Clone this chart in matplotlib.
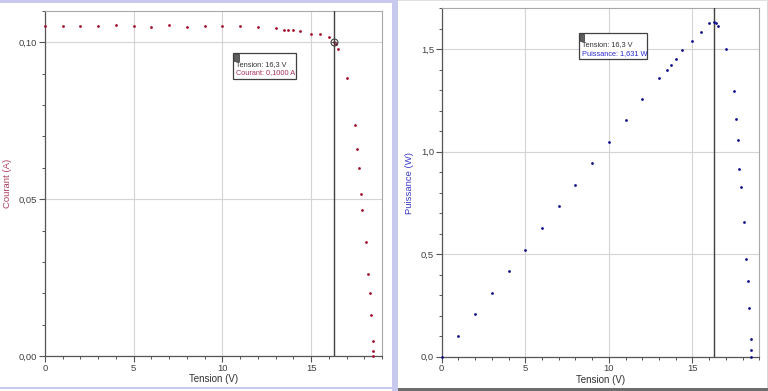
import matplotlib
matplotlib.use("Agg")
import matplotlib.pyplot as plt
from matplotlib.patches import Rectangle
from matplotlib.ticker import MultipleLocator, FuncFormatter

# ---- data ----
tension = [0, 1, 2, 3, 4, 5, 6, 7, 8, 9, 10, 11, 12, 13, 13.5, 13.7, 14, 14.4, 15, 15.5,
           16, 16.3, 16.4, 16.5, 17, 17.5, 17.6, 17.7, 17.8, 17.9, 18.1, 18.2, 18.3, 18.4,
           18.5, 18.5, 18.5]
courant = [0.1051, 0.1051, 0.1051, 0.1053, 0.1054, 0.1051, 0.1049, 0.1054, 0.1049, 0.1051,
           0.1051, 0.1051, 0.1049, 0.1047, 0.1039, 0.1039, 0.1038, 0.1035, 0.1027, 0.1026,
           0.1017, 0.1000, 0.0994, 0.0978, 0.0885, 0.0738, 0.0660, 0.0598, 0.0515, 0.0466,
           0.0363, 0.0263, 0.0202, 0.0130, 0.0047, 0.0017, 0.0000]
puissance = [0.000, 0.103, 0.207, 0.313, 0.419, 0.521, 0.629, 0.736, 0.837, 0.943, 1.049,
             1.156, 1.257, 1.360, 1.399, 1.422, 1.451, 1.495, 1.541, 1.586, 1.626, 1.631,
             1.630, 1.614, 1.503, 1.295, 1.161, 1.057, 0.917, 0.830, 0.657, 0.475, 0.370,
             0.240, 0.087, 0.031, 0.000]
cursor_v = 16.3
cursor_i = 0.1000
cursor_p = 1.631
label_left = ["Tension: 16,3 V", "Courant: 0,1000 A"]
label_right = ["Tension: 16,3 V", "Puissance: 1,631 W"]

plt.rcParams['font.family'] = ['Liberation Sans', 'DejaVu Sans']

W, H = 768, 391
fig = plt.figure(figsize=(W / 100, H / 100), dpi=100, facecolor='white')

def fr(x0, y0, x1, y1):
    """pixel box (top-left origin) -> figure fraction rect args"""
    return (x0 / W, 1 - y1 / H), (x1 - x0) / W, (y1 - y0) / H

lav = '#c9c9ef'
for box, col in [((0, 0, 393, 2.5), lav), ((392, 0, 398, 391), lav),
                 ((0, 386.5, 393, 389), lav), ((398, 388, 768, 391), '#6e6e6e'),
                 ((766.5, 0, 768, 388), '#d8d8d8'), ((398, 0, 768, 1), '#e0e0e0')]:
    xy, w, h = fr(*box)
    fig.patches.append(Rectangle(xy, w, h, transform=fig.transFigure,
                                 facecolor=col, edgecolor='none', zorder=0))

axL = fig.add_axes([45 / W, 1 - 356 / H, 337 / W, 345 / H])
axR = fig.add_axes([441.7 / W, 1 - 356.7 / H, 317.6 / W, 348.4 / H])

tick_col = '#404040'
for ax in (axL, axR):
    ax.set_xlim(0, 19)
    ax.xaxis.set_major_locator(MultipleLocator(5))
    ax.xaxis.set_minor_locator(MultipleLocator(1))
    ax.xaxis.set_major_formatter(FuncFormatter(lambda v, p: f"{v:.0f}"))
    ax.grid(True, which='major', color='#d4d4d4', lw=0.8)
    ax.set_axisbelow(True)
    for s in ('left', 'bottom'):
        ax.spines[s].set_color('#555555')
        ax.spines[s].set_linewidth(0.9)
    for s in ('top', 'right'):
        ax.spines[s].set_color('#a8a8a8')
        ax.spines[s].set_linewidth(0.8)
    ax.tick_params(which='major', length=4, width=0.8, color='#555555',
                   labelsize=6.8, labelcolor=tick_col, pad=1.5)
    ax.tick_params(which='minor', length=2.5, width=0.7, color='#555555')
    ax.set_xlabel("Tension (V)", fontsize=7.0, color='#303030', labelpad=1)
    ax.axvline(cursor_v, color='#404040', lw=1.0, zorder=3)

# left: current
axL.set_ylim(0, 0.11)
axL.yaxis.set_major_locator(MultipleLocator(0.05))
axL.yaxis.set_minor_locator(MultipleLocator(0.01))
axL.yaxis.set_major_formatter(FuncFormatter(lambda v, p: f"{v:.2f}".replace('.', ',')))
axL.plot(tension, courant, 'o', ms=2.0, color='#a0102c', mec='none', zorder=4, clip_on=False)
axL.plot([cursor_v], [cursor_i], 'o', ms=5, mfc='none', mec='#404040', mew=0.8, zorder=5)
axL.plot([cursor_v], [cursor_i], '+', ms=5, color='#404040', mew=0.6, zorder=5)
axL.set_ylabel("Courant (A)", fontsize=6.8, color='#b04060')
axL.yaxis.set_label_coords((12 - 45) / 337, 0.5)

# right: power
axR.set_ylim(0, 1.7)
axR.yaxis.set_major_locator(MultipleLocator(0.5))
axR.yaxis.set_minor_locator(MultipleLocator(0.1))
axR.yaxis.set_major_formatter(FuncFormatter(lambda v, p: f"{v:.1f}".replace('.', ',')))
axR.plot(tension, puissance, 'o', ms=2.0, color='#10108a', mec='none', zorder=4, clip_on=False)
axR.set_ylabel("Puissance (W)", fontsize=6.8, color='#3a3ac8')
axR.yaxis.set_label_coords((414.5 - 441.7) / 317.6, 0.5)

def info_box(ax, x0, y0, x1, y1, lines, col2):
    ax.add_patch(Rectangle((x0, y1), x1 - x0, y0 - y1, transform=ax.transAxes,
                           facecolor='white', edgecolor='#404040', lw=0.9, zorder=6))
    ax.add_patch(Rectangle((x0 + 0.004, y0 - 0.022), 0.013, 0.018, transform=ax.transAxes,
                           facecolor='#606060', edgecolor='#303030', lw=0.5, zorder=7))
    ax.text(x0 + 0.01, y0 - 0.034, lines[0], transform=ax.transAxes, fontsize=5.3,
            color='#303030', va='center', ha='left', zorder=7)
    ax.text(x0 + 0.01, y0 - 0.058, lines[1], transform=ax.transAxes, fontsize=5.3,
            color=col2, va='center', ha='left', zorder=7)

info_box(axL, (233 - 45) / 337, (356 - 53) / 345, (296 - 45) / 337, (356 - 79) / 345,
         label_left, '#a83060')
info_box(axR, (579 - 441.7) / 317.6, (356.7 - 33) / 348.4, (647.3 - 441.7) / 317.6,
         (356.7 - 59) / 348.4, label_right, '#2a2ad0')

fig.savefig("out.png", dpi=100, facecolor='white')
